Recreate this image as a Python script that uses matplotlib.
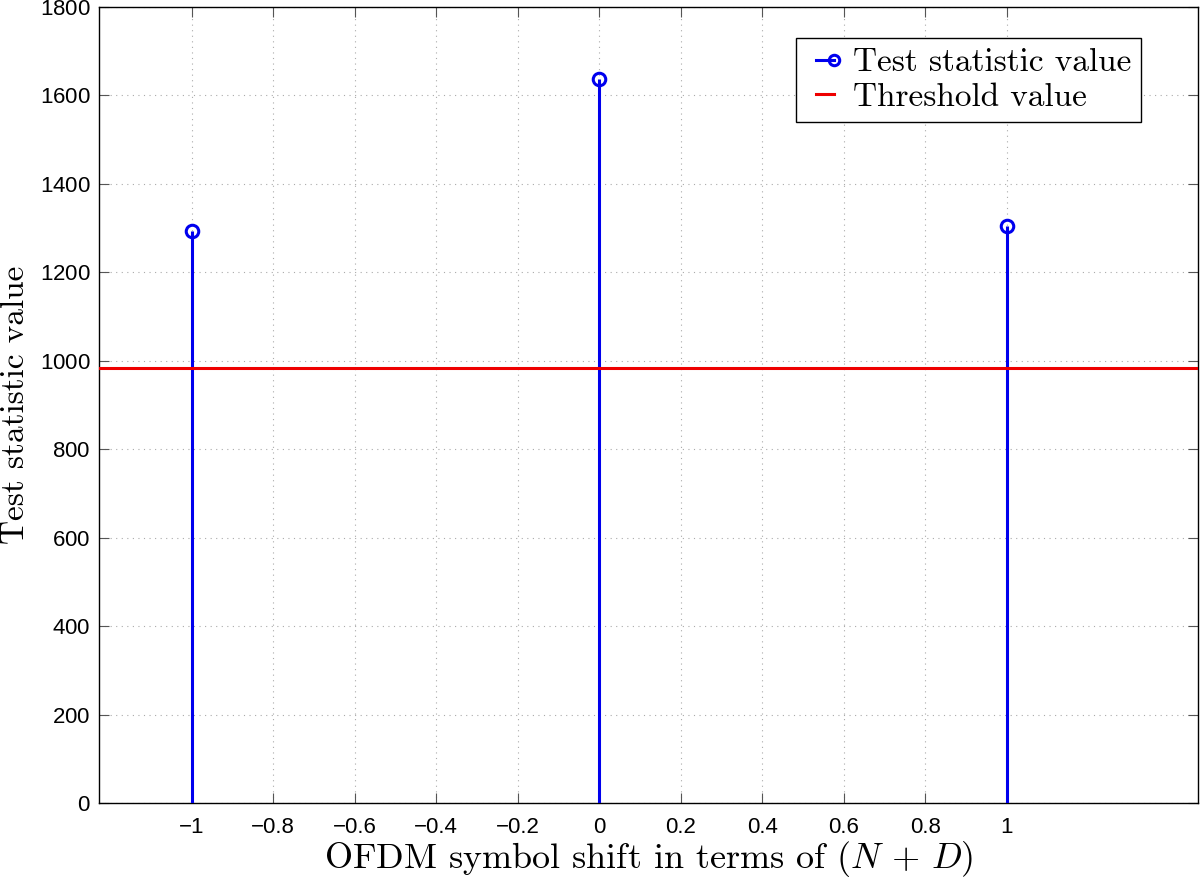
import matplotlib
matplotlib.use("Agg")
import matplotlib.pyplot as plt
from matplotlib.lines import Line2D
from matplotlib.legend_handler import HandlerLine2D

# Datos
shift = [-1, 0, 1]
test_stat = [1294, 1637, 1304]
thr_x = [-1.25, 1.5]
thr_y = [983, 983]
x_ticks = [-1, -0.8, -0.6, -0.4, -0.2, 0, 0.2, 0.4, 0.6, 0.8, 1]
x_ticklabels = ["\u22121", "\u22120.8", "\u22120.6", "\u22120.4", "\u22120.2",
                "0", "0.2", "0.4", "0.6", "0.8", "1"]
y_ticks = [0, 200, 400, 600, 800, 1000, 1200, 1400, 1600, 1800]

plt.rcParams["mathtext.fontset"] = "cm"
plt.rcParams["axes.formatter.use_mathtext"] = True


class StemHandler(HandlerLine2D):
    # marcador solo en el extremo derecho, como en MATLAB
    def create_artists(self, legend, orig_handle, xdescent, ydescent,
                       width, height, fontsize, trans):
        arts = super().create_artists(legend, orig_handle, xdescent, ydescent,
                                      width, height, fontsize, trans)
        for a in arts:
            a.set_markevery([1])
        return arts


fig = plt.figure(figsize=(12, 8.8), dpi=100)
ax = fig.add_axes([99 / 1200, 77 / 880, 1099 / 1200, 796 / 880])

blue = "#0000ee"
red = "#ee0000"

ax.vlines(shift, 0, test_stat, color=blue, lw=2.2, zorder=3)
ax.plot(shift, test_stat, "o", mfc="none", mec=blue, mew=2.2, ms=9, zorder=4)
ax.plot(thr_x, thr_y, color=red, lw=2.2, zorder=3)

ax.set_xlim(-1.228, 1.47)
ax.set_ylim(0, 1800)
ax.set_xticks(x_ticks)
ax.set_xticklabels(x_ticklabels)
ax.set_yticks(y_ticks)

ax.tick_params(direction="in", top=True, right=True, length=7, width=0.8,
               color="#555555", labelsize=16,
               labelfontfamily="Liberation Sans")
ax.tick_params(axis="x", pad=10)
ax.tick_params(axis="y", pad=6)
ax.grid(True, linestyle=(0, (1, 4)), color="#aaaaaa", lw=0.8)
for s in ax.spines.values():
    s.set_linewidth(1.0)

ax.set_xlabel(r"OFDM symbol shift in terms of $(N\,+\,D)$", family="cmr10",
              fontsize=26)
ax.xaxis.set_label_coords(0.5, -56 / 796, transform=ax.transAxes)
ax.xaxis.label.set_va("center")
ax.set_ylabel("Test statistic value", family="cmr10", fontsize=24)
ax.yaxis.set_label_coords(-84 / 1099, 0.5, transform=ax.transAxes)
ax.yaxis.label.set_va("center")

h1 = Line2D([0, 1], [0, 0], color=blue, lw=2.2, marker="o", mfc="none",
            mec=blue, mew=2.2, ms=7.5)
h2 = Line2D([0, 1], [0, 0], color=red, lw=2.2)
leg = ax.legend([h1, h2], ["Test statistic value", "Threshold value"],
                handler_map={h1: StemHandler()},
                loc="upper right", bbox_to_anchor=(1141 / 1200, 842 / 880),
                bbox_transform=fig.transFigure, prop={"family": "cmr10", "size": 24},
                numpoints=2, handlelength=1.15, handletextpad=0.25, borderpad=0.3,
                labelspacing=0.15, fancybox=False, framealpha=1, borderaxespad=0)
leg.get_frame().set_edgecolor("black")
leg.get_frame().set_linewidth(1.0)

fig.savefig("out.png", dpi=100)
